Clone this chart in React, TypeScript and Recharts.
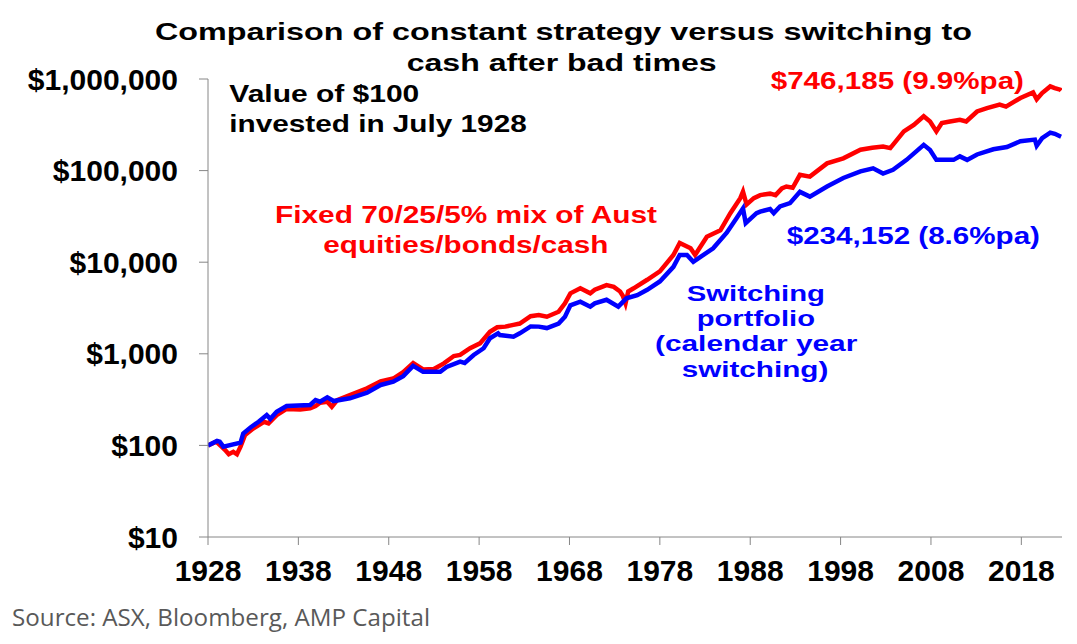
import { Line, LineChart, XAxis, YAxis } from 'recharts'

// Value of $100 invested in July 1928 (log scale)
const fixedYears = [
  1928.5, 1929.4, 1930.0, 1930.4, 1930.8, 1931.3, 1931.7, 1932.1, 1932.6, 1933.5,
  1934.7, 1935.2, 1936.1, 1937.2, 1938.7, 1939.8, 1940.4, 1940.9, 1941.7, 1942.2,
  1942.8, 1944.2, 1946.1, 1947.6, 1949.0, 1950.1, 1951.2, 1952.3, 1953.5, 1954.6,
  1955.7, 1956.4, 1957.5, 1958.6, 1959.7, 1960.5, 1961.4, 1962.3, 1963.0, 1964.2,
  1965.1, 1966.0, 1967.3, 1968.0, 1968.6, 1969.7, 1970.8, 1971.3, 1972.6, 1973.4,
  1974.1, 1974.4, 1974.7, 1975.0, 1975.6, 1977.1, 1978.5, 1980.0, 1980.7, 1981.9,
  1982.4, 1983.7, 1985.2, 1986.3, 1987.4, 1987.7, 1988.1, 1988.9, 1989.6, 1990.7,
  1991.3, 1992.0, 1992.5, 1993.2, 1994.0, 1995.1, 1997.0, 1998.8, 2000.7, 2002.0,
  2003.2, 2004.0, 2005.5, 2006.6, 2007.7, 2008.4, 2009.1, 2009.7, 2010.6, 2011.7,
  2012.4, 2013.6, 2014.7, 2016.1, 2016.8, 2018.4, 2019.8, 2020.2, 2020.8, 2021.7,
  2022.2, 2022.8, 2022.9,
]
const fixedValues = [
  100, 110, 97, 89, 80, 85, 80, 97, 130, 153,
  181, 174, 214, 250, 247, 254, 269, 292, 300, 264,
  312, 355, 420, 500, 537, 632, 794, 676, 682, 787,
  946, 971, 1150, 1300, 1740, 1950, 1980, 2070, 2140, 2570,
  2650, 2540, 2880, 3550, 4570, 5190, 4570, 5000, 5620, 5370,
  4790, 4300, 3550, 4790, 5190, 6430, 7950, 12000, 16200, 14200,
  12000, 19000, 22300, 34300, 50000, 59000, 42600, 50000, 54000, 56000,
  54000, 64000, 67000, 65000, 90000, 86000, 120000, 136000, 169000, 178000,
  183000, 176000, 268000, 316000, 392000, 344000, 268000, 331000, 344000, 359000,
  344000, 442000, 482000, 525000, 500000, 620000, 713000, 600000, 703000, 830000,
  795000, 764000, 746185,
]

const switchYears = [
  1928.5, 1929.5, 1929.8, 1930.2, 1932.1, 1932.4, 1933.2, 1934.1, 1935.0, 1935.4,
  1936.1, 1937.2, 1939.8, 1940.4, 1940.9, 1941.7, 1942.4, 1944.2, 1946.1, 1947.6,
  1949.0, 1950.1, 1951.2, 1952.3, 1954.2, 1954.9, 1956.4, 1956.9, 1957.9, 1959.0,
  1959.7, 1960.6, 1960.8, 1962.3, 1963.0, 1964.2, 1965.1, 1966.0, 1967.3, 1968.0,
  1968.6, 1969.7, 1970.8, 1971.3, 1972.6, 1973.9, 1974.8, 1976.0, 1977.1, 1978.5,
  1980.0, 1980.7, 1981.5, 1982.2, 1984.4, 1985.9, 1987.0, 1987.7, 1988.0, 1989.2,
  1989.6, 1990.7, 1991.1, 1991.8, 1992.9, 1994.0, 1995.1, 1997.0, 1998.8, 2000.7,
  2002.1, 2003.2, 2004.3, 2005.8, 2007.7, 2008.4, 2009.1, 2011.0, 2011.7, 2012.5,
  2013.6, 2015.4, 2016.9, 2018.4, 2020.0, 2020.2, 2020.8, 2021.7, 2022.2, 2022.9,
]
const switchValues = [
  100, 112, 110, 97, 107, 135, 157, 181, 214, 195,
  233, 269, 276, 312, 300, 335, 305, 327, 376, 457,
  496, 571, 737, 635, 635, 720, 820, 795, 970, 1150,
  1480, 1675, 1600, 1540, 1675, 1990, 1980, 1910, 2140, 2540,
  3380, 3700, 3270, 3550, 3890, 3270, 4030, 4370, 5000, 6170,
  8900, 12000, 12000, 10100, 14200, 21000, 30300, 38700, 26700, 34300,
  35700, 38000, 34300, 40600, 44100, 58600, 52000, 67000, 83000, 98000,
  106000, 93000, 102000, 131000, 191000, 168000, 131000, 131000, 143000, 131000,
  150000, 171000, 181000, 209000, 218000, 187000, 226000, 260000, 252000, 234152,
]

const yearTicks = [1928.5, 1938.5, 1948.5, 1958.5, 1968.5, 1978.5, 1988.5, 1998.5, 2008.5, 2018.5]
const valueTicks = [10, 100, 1000, 10000, 100000, 1000000]

const fixedData = fixedYears.map((year, i) => ({ year, value: fixedValues[i] }))
const switchData = switchYears.map((year, i) => ({ year, value: switchValues[i] }))

const BOLD = '"Liberation Sans", Arial, sans-serif'
const RED = '#FF0000'
const BLUE = '#0000FF'

type Note = { text: string; x: number; y: number; w: number; color: string; size?: number }

// text boxes in the original are stretched wider than the font, so fit each line
const notes: Note[] = [
  { text: 'Comparison of constant strategy versus switching to', x: 155, y: 39.5, w: 817, color: '#000' },
  { text: 'cash after bad times', x: 406.7, y: 70.5, w: 310, color: '#000' },
  { text: 'Value of $100', x: 229.3, y: 101.7, w: 190, color: '#000' },
  { text: 'invested in July 1928', x: 229.3, y: 131.7, w: 297.4, color: '#000' },
  { text: 'Fixed 70/25/5% mix of Aust', x: 275, y: 223.3, w: 382, color: RED },
  { text: 'equities/bonds/cash', x: 323.3, y: 253.3, w: 285, color: RED },
  { text: '$746,185 (9.9%pa)', x: 770.7, y: 89.3, w: 253.3, color: RED },
  { text: '$234,152 (8.6%pa)', x: 786.7, y: 244.3, w: 253.3, color: BLUE },
  { text: 'Switching', x: 686.7, y: 300.5, w: 138.3, color: BLUE, size: 22 },
  { text: 'portfolio', x: 696.7, y: 325.9, w: 118.3, color: BLUE, size: 22 },
  { text: '(calendar year', x: 655, y: 351.3, w: 202.3, color: BLUE, size: 22 },
  { text: 'switching)', x: 681.7, y: 376.7, w: 146.6, color: BLUE, size: 22 },
]

export default function App() {
  return (
    <div style={{ position: 'absolute', left: 0, top: 0, width: 1077, height: 644, background: '#fff' }}>
      <LineChart
        width={1077}
        height={644}
        margin={{ top: 79, right: 15, bottom: 0, left: 0 }}
      >
        <XAxis
          type="number"
          dataKey="year"
          domain={[1928.5, 2023]}
          ticks={yearTicks}
          allowDataOverflow
          tickFormatter={(v: number) => String(Math.floor(v))}
          height={107}
          tickSize={8}
          tickMargin={15}
          stroke="#868686"
          tick={{ fontSize: 30, fontWeight: 'bold', fill: '#000', fontFamily: BOLD }}
        />
        <YAxis
          type="number"
          scale="log"
          domain={[10, 1000000]}
          ticks={valueTicks}
          allowDataOverflow
          width={208}
          tickSize={9}
          tickMargin={21}
          stroke="#868686"
          tickFormatter={(v: number) => `$${v.toLocaleString('en-US')}`}
          tick={{ fontSize: 30, fontWeight: 'bold', fill: '#000', fontFamily: BOLD }}
        />
        <Line
          data={fixedData}
          dataKey="value"
          type="linear"
          stroke={RED}
          strokeWidth={4.5}
          dot={false}
          isAnimationActive={false}
        />
        <Line
          data={switchData}
          dataKey="value"
          type="linear"
          stroke={BLUE}
          strokeWidth={4.5}
          dot={false}
          isAnimationActive={false}
        />
      </LineChart>
      <svg
        width={1077}
        height={644}
        style={{ position: 'absolute', left: 0, top: 0, pointerEvents: 'none' }}
      >
        {notes.map((n) => (
          <text
            key={n.text}
            x={n.x}
            y={n.y}
            fill={n.color}
            fontFamily={BOLD}
            fontWeight="bold"
            fontSize={n.size ?? 24.7}
            textLength={n.w}
            lengthAdjust="spacingAndGlyphs"
          >
            {n.text}
          </text>
        ))}
        <text
          x={12}
          y={626}
          fill="#595959"
          fontFamily='"Open Sans", sans-serif'
          fontSize={24.5}
          textLength={418}
          lengthAdjust="spacingAndGlyphs"
        >
          Source: ASX, Bloomberg, AMP Capital
        </text>
      </svg>
    </div>
  )
}
